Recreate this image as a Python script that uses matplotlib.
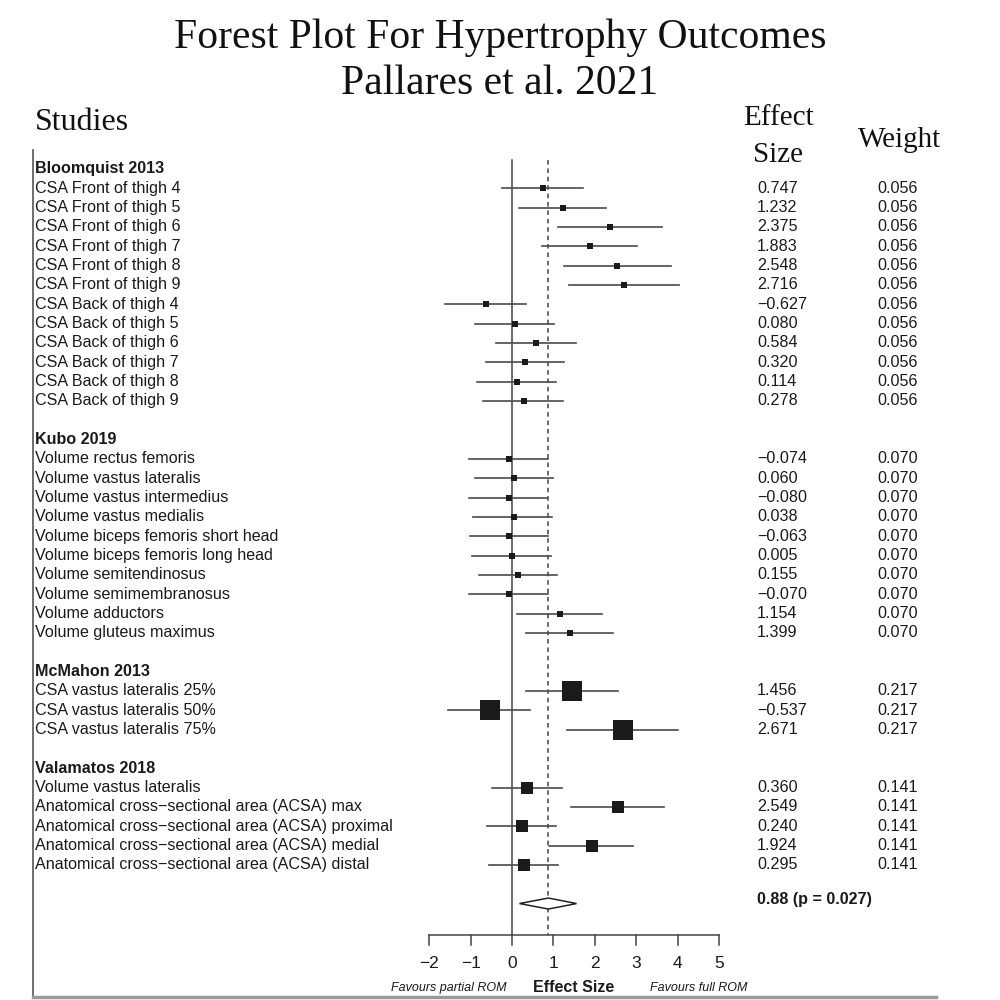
import numpy as np
import matplotlib
matplotlib.use("Agg")
import matplotlib.pyplot as plt
from matplotlib.patches import Polygon

# ---- data ----
studies = ["Bloomquist 2013", "Kubo 2019", "McMahon 2013", "Valamatos 2018"]
n_outcomes = [12, 10, 3, 5]

outcomes = [
    "CSA Front of thigh 4", "CSA Front of thigh 5", "CSA Front of thigh 6",
    "CSA Front of thigh 7", "CSA Front of thigh 8", "CSA Front of thigh 9",
    "CSA Back of thigh 4", "CSA Back of thigh 5", "CSA Back of thigh 6",
    "CSA Back of thigh 7", "CSA Back of thigh 8", "CSA Back of thigh 9",
    "Volume rectus femoris", "Volume vastus lateralis", "Volume vastus intermedius",
    "Volume vastus medialis", "Volume biceps femoris short head",
    "Volume biceps femoris long head", "Volume semitendinosus",
    "Volume semimembranosus", "Volume adductors", "Volume gluteus maximus",
    "CSA vastus lateralis 25%", "CSA vastus lateralis 50%", "CSA vastus lateralis 75%",
    "Volume vastus lateralis",
    "Anatomical cross\u2212sectional area (ACSA) max",
    "Anatomical cross\u2212sectional area (ACSA) proximal",
    "Anatomical cross\u2212sectional area (ACSA) medial",
    "Anatomical cross\u2212sectional area (ACSA) distal",
]
effect = [0.747, 1.232, 2.375, 1.883, 2.548, 2.716, -0.627, 0.080, 0.584, 0.320, 0.114, 0.278,
          -0.074, 0.060, -0.080, 0.038, -0.063, 0.005, 0.155, -0.070, 1.154, 1.399,
          1.456, -0.537, 2.671,
          0.360, 2.549, 0.240, 1.924, 0.295]
ci_low = [-0.25, 0.18, 1.12, 0.73, 1.26, 1.38, -1.61, -0.89, -0.39, -0.64, -0.85, -0.69,
          -1.04, -0.90, -1.05, -0.93, -1.02, -0.96, -0.80, -1.03, 0.12, 0.33,
          0.35, -1.54, 1.32,
          -0.49, 1.43, -0.61, 0.89, -0.56]
ci_high = [1.72, 2.26, 3.62, 3.02, 3.83, 4.03, 0.34, 1.02, 1.55, 1.26, 1.06, 1.22,
           0.86, 1.00, 0.85, 0.97, 0.88, 0.94, 1.09, 0.86, 2.17, 2.45,
           2.55, 0.44, 4.02,
           1.20, 3.67, 1.07, 2.93, 1.12]
weights = [0.056] * 12 + [0.070] * 10 + [0.217] * 3 + [0.141] * 5

summary_est = 0.88
summary_lo = 0.18
summary_hi = 1.56
summary_p = 0.027
xticks = [-2, -1, 0, 1, 2, 3, 4, 5]

# ---- layout ----
ROW_PX = 19.33
X0_PX, UNIT_PX = 512, 41.4


def fmt(v):
    return f"{v:.3f}".replace("-", "\u2212")


fig = plt.figure(figsize=(10, 10), dpi=100)
ax = fig.add_axes([0.033, 0.003, 0.903, 0.847])
ax.set_xlim((33 - X0_PX) / UNIT_PX, (936 - X0_PX) / UNIT_PX)
ax.set_ylim((997 - 169) / ROW_PX, (150 - 169) / ROW_PX)
ax.set_xticks([])
ax.set_yticks([])
for s in ["top", "right"]:
    ax.spines[s].set_visible(False)
ax.spines["left"].set_color("#555555")
ax.spines["left"].set_linewidth(1.2)
ax.spines["bottom"].set_color("#9a9a9a")
ax.spines["bottom"].set_linewidth(2.5)

label_x = (35 - X0_PX) / UNIT_PX
eff_x = (757 - X0_PX) / UNIT_PX
wt_x = (877 - X0_PX) / UNIT_PX
txt = dict(fontsize=11.6, family="Liberation Sans", color="#1a1a1a", va="center")

row = 0
k = 0
for study, n in zip(studies, n_outcomes):
    ax.text(label_x, row, study, fontweight="bold", **txt)
    for i in range(n):
        r = row + 1 + i
        ax.text(label_x, r, outcomes[k], **txt)
        ax.plot([ci_low[k], ci_high[k]], [r, r], color="#4a4a4a", lw=1.2, zorder=2)
        ax.plot(effect[k], r, marker="s", color="#1a1a1a",
                ms=(1.0 + weights[k] * 83) * 0.72, mew=0, zorder=3)
        ax.text(eff_x, r, fmt(effect[k]), **txt)
        ax.text(wt_x, r, f"{weights[k]:.3f}", **txt)
        k += 1
    row += n + 2

sum_row = row
axis_row = (935 - 169) / ROW_PX
top_row = (160 - 169) / ROW_PX

ax.plot([0, 0], [top_row, axis_row], color="#444444", lw=1.1, zorder=1)
ax.plot([summary_est, summary_est], [top_row, axis_row], color="#444444", lw=1.1,
        ls=(0, (3, 2.5)), zorder=1)

h = 5.5 / ROW_PX
diamond = Polygon([[summary_lo, sum_row], [summary_est, sum_row - h],
                   [summary_hi, sum_row], [summary_est, sum_row + h]],
                  closed=True, facecolor="white", edgecolor="#222222", lw=1.1, zorder=4)
ax.add_patch(diamond)
ax.text(eff_x, sum_row - 0.2, f"{summary_est:.2f} (p = {summary_p:.3f})",
        fontweight="bold", **txt)

# x axis
tick_len = 10 / ROW_PX
ax.plot([xticks[0], xticks[-1]], [axis_row, axis_row], color="#444444", lw=1.1)
for t in xticks:
    ax.plot([t, t], [axis_row, axis_row + tick_len], color="#444444", lw=1.1)
    ax.text(t, (963 - 169) / ROW_PX, f"{t}".replace("-", "\u2212"), ha="center",
            va="center", fontsize=12.5, family="Liberation Sans", color="#1a1a1a")
lab_row = (988 - 169) / ROW_PX
ax.text((574 - X0_PX) / UNIT_PX, lab_row, "Effect Size", ha="center", va="center",
        fontsize=11.5, fontweight="bold", family="Liberation Sans", color="#1a1a1a")
ax.text((507 - X0_PX) / UNIT_PX, lab_row, "Favours partial ROM", ha="right", va="center",
        fontsize=9, style="italic", family="Liberation Sans", color="#1a1a1a")
ax.text((650 - X0_PX) / UNIT_PX, lab_row, "Favours full ROM", ha="left", va="center",
        fontsize=9, style="italic", family="Liberation Sans", color="#1a1a1a")

# titles / headers
serif = dict(family="Liberation Serif", color="#111111", ha="center", va="center")
fig.text(0.5, 1 - 38 / 1000, "Forest Plot For Hypertrophy Outcomes", fontsize=30, **serif)
fig.text(0.5, 1 - 84 / 1000, "Pallares et al. 2021", fontsize=30, **serif)
fig.text(0.035, 1 - 123 / 1000, "Studies", fontsize=23, family="Liberation Serif",
         color="#111111", ha="left", va="center")
fig.text(0.778, 1 - 118 / 1000, "Effect", fontsize=21, **serif)
fig.text(0.778, 1 - 155 / 1000, "Size", fontsize=21, **serif)
fig.text(0.900, 1 - 140 / 1000, "Weight", fontsize=21, **serif)

fig.savefig("out.png", dpi=100, facecolor="white")
